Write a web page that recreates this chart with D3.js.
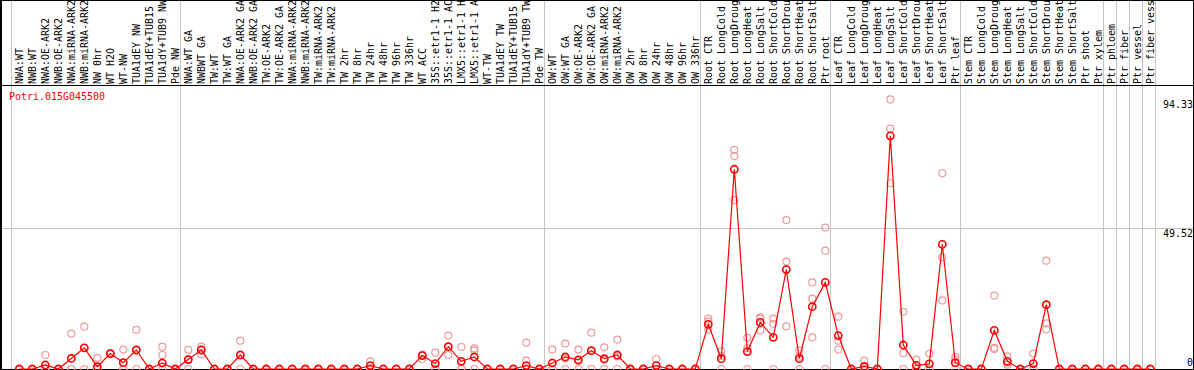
<!DOCTYPE html>
<html>
<head>
<meta charset="utf-8">
<script src="https://cdn.jsdelivr.net/npm/d3@7"></script>
<style>
  html, body { margin: 0; padding: 0; background: #fff; }
  svg { display: block; }
  text { font-family: "DejaVu Sans Mono", "Liberation Mono", monospace; font-size: 9.97px; }
</style>
</head>
<body>
<svg id="chart" width="1194" height="370"></svg>
<script>
const title = "Potri.015G045500";

// column labels as they appear in the header (long names are cut at the top edge)
const labels = [
  "NWA:WT", "NWB:WT", "NWA:OE-ARK2", "NWB:OE-ARK2", "NWA:miRNA-ARK2", "NWB:miRNA-ARK2",
  "NW 0hr", "WT H2O", "WT-NW", "TUA1dEY NW", "TUA1dEY+TUB15", "TUA1dY+TUB9 NW", "Pde NW",
  "NWA:WT GA", "NWBWT GA", "TW:WT", "TW:WT GA", "NWA:OE-ARK2 GA", "NWB:OE-ARK2 GA",
  "TW:OE-ARK2", "TW:OE-ARK2 GA", "NWA:miRNA-ARK2", "NWB:miRNA-ARK2", "TW:miRNA-ARK2",
  "TW:miRNA-ARK2", "TW 2hr", "TW 8hr", "TW 24hr", "TW 48hr", "TW 96hr", "TW 336hr",
  "WT ACC", "35S::etr1-1 H2", "35S::etr1-1 AC", "LMX5::etr1-1 H", "LMX5::etr1-1 A",
  "WT-TW", "TUA1dEY TW", "TUA1dEY+TUB15", "TUA1dY+TUB9 TW", "Pde TW",
  "OW:WT", "OW:WT GA", "OW:OE-ARK2", "OW:OE-ARK2 GA", "OW:miRNA-ARK2", "OW:miRNA-ARK2",
  "OW 2hr", "OW 8hr", "OW 24hr", "OW 48hr", "OW 96hr", "OW 336hr",
  "Root CTR", "Root LongCold", "Root LongDroug", "Root LongHeat", "Root LongSalt",
  "Root ShortCold", "Root ShortDrou", "Root ShortHeat", "Root ShortSalt", "Ptr root",
  "Leaf CTR", "Leaf LongCold", "Leaf LongDroug", "Leaf LongHeat", "Leaf LongSalt",
  "Leaf ShortCold", "Leaf ShortDrou", "Leaf ShortHeat", "Leaf ShortSalt", "Ptr leaf",
  "Stem CTR", "Stem LongCold", "Stem LongDroug", "Stem LongHeat", "Stem LongSalt",
  "Stem ShortCold", "Stem ShortDrou", "Stem ShortHeat", "Stem ShortSalt", "Ptr shoot",
  "Ptr xylem", "Ptr phloem", "Ptr fiber", "Ptr vessel", "Ptr fiber vess"
];

// number of columns in each boxed group, left to right
const groupSizes = [13, 28, 12, 10, 10, 11, 1, 1, 1, 1];

const means = [
  0, 0, 1.4, 0, 3.7, 7.4, 0.8, 5.4, 2.2, 6.7, 0, 2.1, 0,
  3.3, 6.7, 0, 0, 4.9, 0, 0, 0, 0, 0, 0, 0, 0, 0, 1.2, 0, 0, 0,
  4.7, 1.9, 7.8, 2.7, 4.2, 0, 0, 0, 1.2, 0,
  2.1, 4.2, 3.2, 6.4, 3.6, 4.9, 0, 0, 1.2, 0, 0, 0,
  15.6, 3.6, 69.9, 6.1, 16.3, 11.1, 34.8, 3.6, 21.8, 30.3,
  11.7, 0, 0.9, 0, 81.6, 8.4, 1.3, 1.8, 43.6, 2.2,
  0, 0, 13.5, 2.7, 0, 1.9, 22.5, 0, 0, 0, 0,
  0, 0, 0, 0
];

const replicates = [
  [0,0,0], [0,0,0], [4.9,0,0], [0,0,0], [12.4,0,0], [14.8,7.4,0], [3.9,0,0],
  [5.6,5.2,5.4], [6.8,0,0], [13.7,6.4,0], [0,0,0], [7.8,4.9,0], [0,0,0],
  [6.7,3.3,0], [7.8,6.4,5.1], [0,0,0], [0,0,0], [9.9,4.9,0], [0,0,0], [0,0,0], [0,0,0],
  [0,0,0], [0,0,0], [0,0,0], [0,0,0], [0,0,0], [0,0,0], [2.7,0,0], [0,0,0], [0,0,0], [0,0,0],
  [5.0,4.7,3.5], [5.7,0,0], [11.7,7.8,4.9], [7.7,0,0], [7.2,6.5,0], [0,0,0], [0,0,0], [0,0,0],
  [9.2,2.9,0], [0,0,0],
  [6.8,0,0], [8.9,3.7,0], [6.8,2.8,0], [12.7,6.4,0], [7.6,3.2,0], [10.3,4.4,0],
  [0,0,0], [0,0,0], [3.5,0,0], [0,0,0], [0,0,0], [0,0,0],
  [17.6,16.7,13.8], [6.2,4.5,0], [76.7,74.5,59.1], [10.9,7.2,0], [18.1,17.6,13.5],
  [17.6,15.8,0], [52.1,37.6,14.9], [6.5,4.3,0], [30.3,24.6,11.1], [49.5,41.4,0],
  [18.3,9.9,6.8], [0,0,0], [2.9,0,0], [0,0,0], [94.33,84.1,65.0], [20.0,5.6,0],
  [3.3,0,0], [5.4,0,0], [68.5,39.1,24.0], [4.2,3.3,0],
  [0,0,0], [0,0,0], [25.7,7.4,7.0], [4.4,2.2,1.5], [0,0,0], [5.4,0,0],
  [37.9,16.0,13.9], [0,0,0], [0,0,0], [0,0,0], [0,0,0],
  [0,0,0], [0,0,0], [0,0,0], [0,0,0]
];

const yTicks = [94.33, 49.52, 0];
const gridValues = [49.52];
const yMax = 99.04;

const W = 1194, H = 370;
const svg = d3.select("#chart");
svg.append("rect").attr("width", W).attr("height", H).attr("fill", "#fff");

const x = d3.scaleBand().domain(d3.range(labels.length)).range([11.3, 1155.3]).padding(0);
const y = d3.scaleLinear().domain([0, yMax]).range([369, 86]);
const cx = i => x(i) + 8;

// group separators (vertical grey lines)
const bounds = [0];
groupSizes.reduce((acc, n) => { bounds.push(acc + n); return acc + n; }, 0);
const edge = b => (b === labels.length ? x(b - 1) + x.bandwidth() : x(b));
svg.append("g").selectAll("line").data(bounds).join("line")
  .attr("x1", b => Math.round(edge(b)) + 0.5)
  .attr("x2", b => Math.round(edge(b)) + 0.5)
  .attr("y1", 0).attr("y2", H)
  .attr("stroke", "#c4c4c4").attr("stroke-width", 1).attr("shape-rendering", "crispEdges");

// horizontal grid
svg.append("g").selectAll("line").data(gridValues).join("line")
  .attr("x1", 0).attr("x2", W)
  .attr("y1", d => Math.round(y(d)) + 0.5).attr("y2", d => Math.round(y(d)) + 0.5)
  .attr("stroke", "#c4c4c4").attr("shape-rendering", "crispEdges");

// borders
const border = svg.append("g").attr("stroke", "#000").attr("shape-rendering", "crispEdges");
border.append("line").attr("x1", 0).attr("x2", W).attr("y1", 0.5).attr("y2", 0.5);
border.append("line").attr("x1", 0).attr("x2", W).attr("y1", 85.5).attr("y2", 85.5);
border.append("line").attr("x1", 0).attr("x2", W).attr("y1", 369.5).attr("y2", 369.5);
border.append("line").attr("x1", 1).attr("x2", 1).attr("y1", 0).attr("y2", H).attr("stroke-width", 2);
border.append("line").attr("x1", 1193.5).attr("x2", 1193.5).attr("y1", 0).attr("y2", H);

// column labels (vertical)
svg.append("g").selectAll("text").data(labels).join("text")
  .attr("transform", (d, i) => `translate(${cx(i) + 3.6},84) rotate(-90)`)
  .attr("fill", "#000")
  .text(d => d);

// title
svg.append("text").attr("x", 9).attr("y", 100).attr("fill", "#ff0000").text(title);

// right-side value labels
svg.append("g").selectAll("text").data(yTicks).join("text")
  .attr("x", 1193).attr("text-anchor", "end")
  .attr("y", d => d === 0 ? y(d) - 3.5 : y(d) + 9)
  .attr("fill", "#000")
  .text(d => d === 0 ? "0" : d.toFixed(2));

// replicate points
const repPts = [];
replicates.forEach((r, i) => r.forEach(v => repPts.push({ i, v })));
svg.append("g").selectAll("circle").data(repPts).join("circle")
  .attr("cx", d => cx(d.i)).attr("cy", d => y(d.v)).attr("r", 3.5)
  .attr("fill", "none").attr("stroke", "#ec9a9a").attr("stroke-width", 1.2);

// mean line
const line = d3.line().x((d, i) => cx(i)).y(d => y(d));
svg.append("path").datum(means).attr("d", line)
  .attr("fill", "none").attr("stroke", "#ff0000").attr("stroke-width", 1.2);

// mean points
svg.append("g").selectAll("circle").data(means).join("circle")
  .attr("cx", (d, i) => cx(i)).attr("cy", d => y(d)).attr("r", 3.6)
  .attr("fill", "none").attr("stroke", "#ff0000").attr("stroke-width", 1.6);
</script>
</body>
</html>
